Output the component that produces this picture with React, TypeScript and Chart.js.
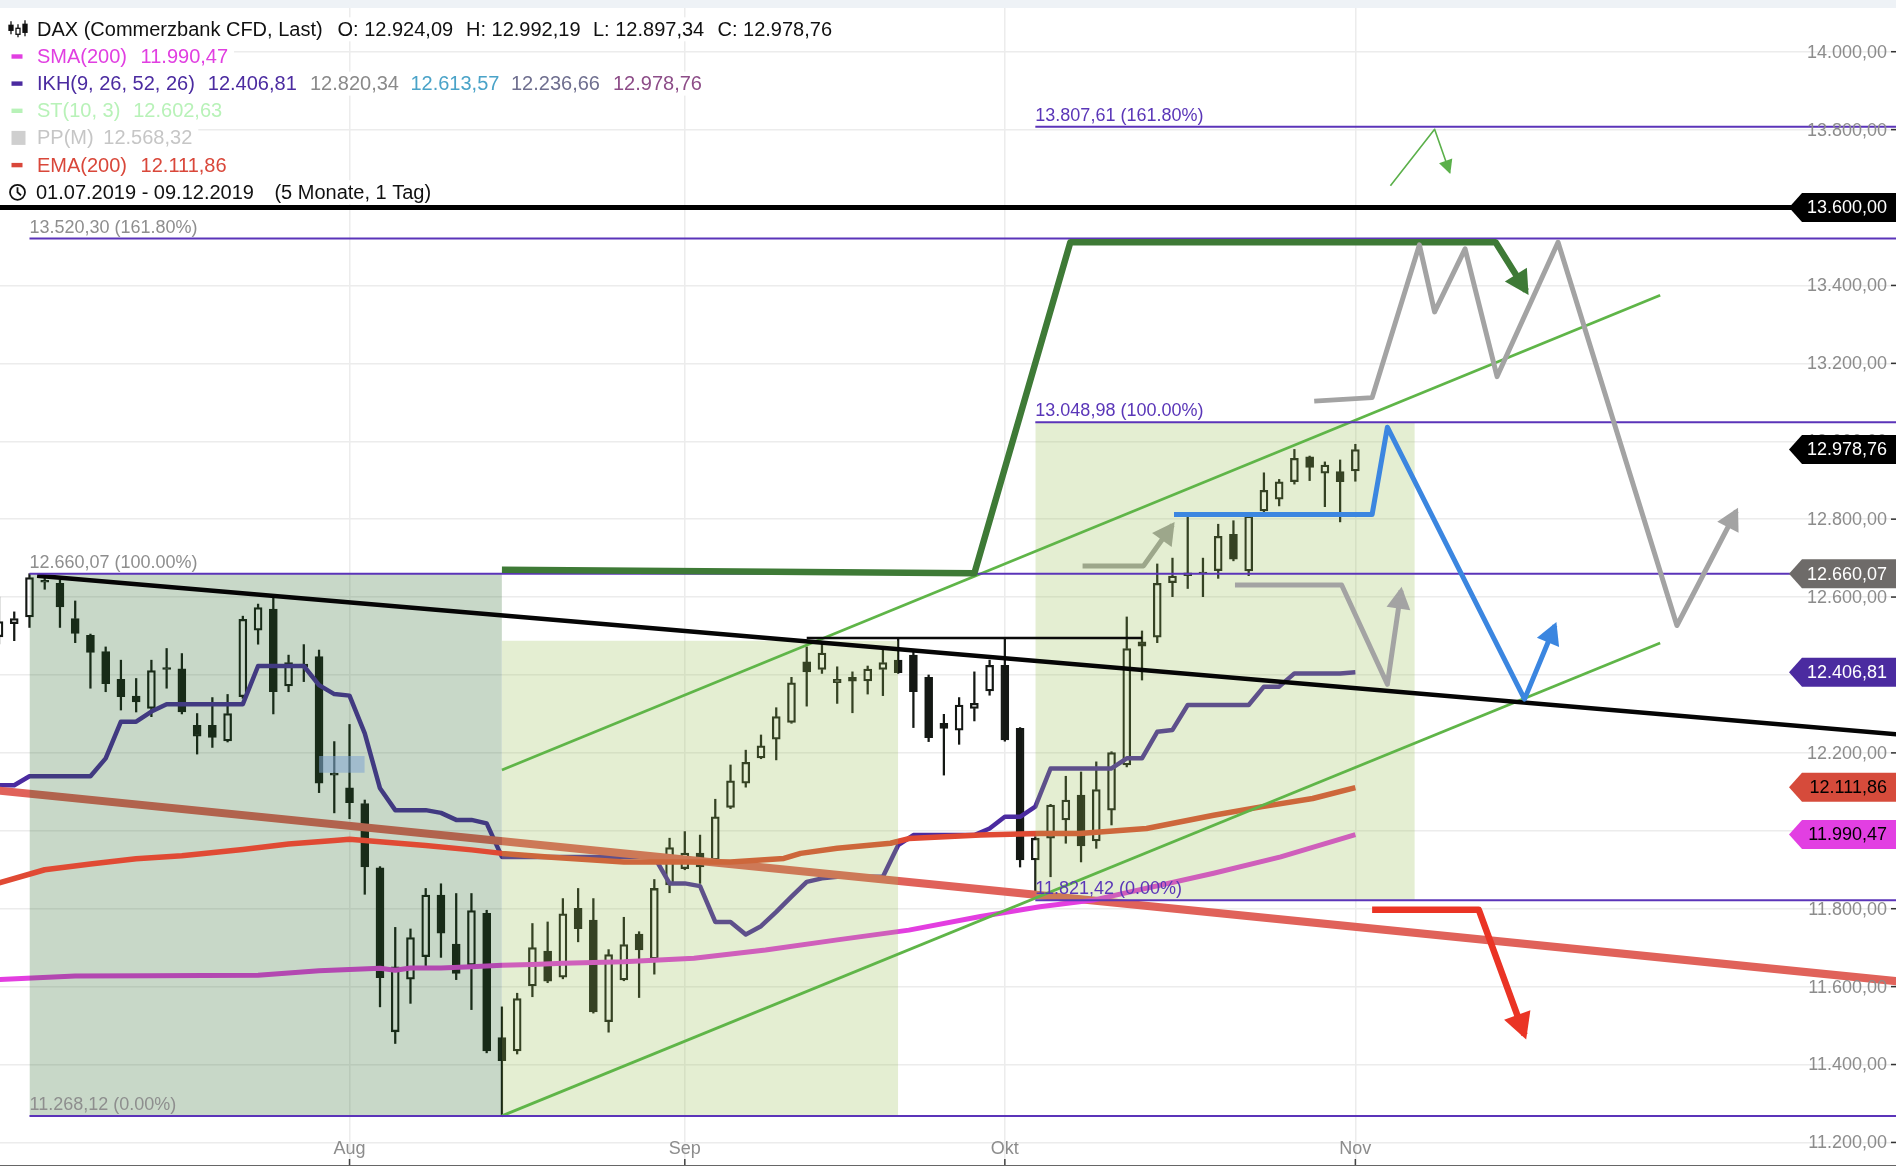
import React, { useEffect, useRef } from 'react';
import { Chart, registerables } from 'chart.js';

Chart.register(...registerables);

const FONT = '"Liberation Sans", "Helvetica Neue", Arial, sans-serif';

// ---------- daily candles, index 0 = 01.07.2019 (trading days) ----------
const OPEN = [
  12498, 12532, 12549, 12643, 12635, 12545, 12502, 12460, 12389, 12346,
  12314, 12419, 12416, 12271, 12271, 12231, 12344, 12515, 12569, 12372,
  12428, 12447, 12148, 12110, 12070, 11905, 11484, 11619, 11677, 11835,
  11709, 11655, 11788, 11469, 11435, 11602, 11691, 11624, 11801, 11771,
  11510, 11617, 11735, 11671, 11861, 11903, 11943, 11925, 12060, 12122,
  12187, 12235, 12278, 12434, 12414, 12380, 12394, 12385, 12414, 12438,
  12451, 12394, 12276, 12258, 12314, 12359, 12425, 12263, 11925, 11981,
  12028, 12092, 11974, 12053, 12169, 12485, 12497, 12637, 12655, 12664,
  12668, 12761, 12667, 12821, 12851, 12896, 12960, 12918, 12922, 12924.09,
];
const HIGH = [
  12600, 12562, 12660, 12655, 12644, 12590, 12505, 12472, 12438, 12391,
  12438, 12468, 12455, 12301, 12342, 12350, 12551, 12582, 12599, 12451,
  12478, 12464, 12229, 12273, 12079, 11908, 11752, 11748, 11852, 11864,
  11839, 11839, 11796, 11548, 11583, 11762, 11766, 11826, 11852, 11826,
  11695, 11778, 11741, 11875, 11981, 11998, 11989, 12081, 12169, 12207,
  12246, 12316, 12394, 12472, 12481, 12421, 12408, 12423, 12464, 12494,
  12460, 12400, 12299, 12342, 12408, 12438, 12494, 12265, 11985, 12068,
  12140, 12151, 12177, 12203, 12549, 12513, 12685, 12700, 12808, 12700,
  12787, 12796, 12810, 12919, 12902, 12979, 12962, 12947, 12952, 12992.19,
];
const LOW = [
  12480, 12488, 12522, 12620, 12522, 12483, 12366, 12357, 12310, 12305,
  12293, 12366, 12300, 12197, 12214, 12228, 12340, 12479, 12300, 12357,
  12383, 12098, 12046, 12031, 11837, 11548, 11454, 11557, 11651, 11675,
  11618, 11541, 11430, 11268, 11427, 11574, 11610, 11620, 11715, 11532,
  11483, 11615, 11572, 11632, 11841, 11900, 11865, 11922, 12057, 12112,
  12185, 12182, 12276, 12320, 12404, 12327, 12303, 12351, 12347, 12404,
  12265, 12229, 12143, 12222, 12282, 12348, 12230, 11907, 11839, 11882,
  11968, 11920, 11955, 12015, 12164, 12387, 12483, 12601, 12622, 12601,
  12648, 12693, 12655, 12818, 12834, 12890, 12899, 12832, 12793, 12897.34,
];
const CLOSE = [
  12537, 12545, 12650, 12638, 12575, 12507, 12458, 12378, 12344, 12331,
  12411, 12414, 12305, 12243, 12240, 12301, 12543, 12573, 12357, 12432,
  12420, 12122, 12143, 12072, 11907, 11623, 11651, 11726, 11835, 11737,
  11634, 11795, 11435, 11410, 11569, 11700, 11614, 11787, 11749, 11535,
  11682, 11708, 11694, 11852, 11957, 11943, 11907, 12036, 12128, 12176,
  12218, 12293, 12380, 12408, 12456, 12389, 12384, 12415, 12432, 12406,
  12357, 12239, 12263, 12323, 12327, 12425, 12233, 11925, 11981, 12066,
  12079, 11961, 12106, 12201, 12468, 12474, 12635, 12654, 12662, 12660,
  12756, 12697, 12808, 12874, 12896, 12956, 12933, 12939, 12896, 12978.76,
];

const MONTH_IDX = [23, 45, 66, 89];
const MONTH_LABELS = ['Aug', 'Sep', 'Okt', 'Nov'];
const Y_TICKS = [11200, 11400, 11600, 11800, 12000, 12200, 12400, 12600, 12800, 13000, 13200, 13400, 13600, 13800, 14000];

// ---------- indicators: [trading-day index, value] ----------
const IKH_LINE = [
  [0, 12117], [1, 12117], [2, 12140], [6, 12140], [7, 12186], [8, 12280], [9, 12280], [10, 12306], [11, 12325],
  [16, 12325], [17, 12423], [20, 12423], [21, 12374], [22, 12351], [23, 12347], [24, 12250], [25, 12109],
  [26, 12053], [28, 12053], [29, 12046], [30, 12028], [31, 12028], [32, 12019], [33, 11933], [43, 11933],
  [44, 11865], [45, 11865], [46, 11858], [47, 11766], [48, 11766], [49, 11734], [50, 11755], [51, 11792],
  [52, 11831], [53, 11869], [54, 11878], [55, 11882], [58, 11882], [59, 11963], [60, 11989], [64, 11989],
  [65, 12006], [66, 12036], [67, 12036], [68, 12062], [69, 12160], [73, 12160], [74, 12186], [75, 12186],
  [76, 12254], [77, 12259], [78, 12323], [82, 12323], [83, 12370], [84, 12370], [85, 12404], [88, 12404], [89, 12407],
];
const EMA_LINE = [
  [0, 11866], [3, 11900], [6, 11915], [9, 11928], [12, 11936], [16, 11952], [19, 11966], [22, 11975], [23, 11978],
  [25, 11972], [28, 11962], [31, 11951], [33, 11942], [36, 11933], [41, 11920], [48, 11920], [51.5, 11929],
  [52.6, 11942], [55, 11955], [58.5, 11968], [59.7, 11980], [64.4, 11989], [68.3, 11993], [70.9, 11993],
  [75.3, 12006], [79.7, 12040], [82.9, 12062], [86.2, 12083], [89, 12111],
];
const SMA_LINE = [
  [0, 11618], [5, 11627], [10, 11628], [17, 11629], [19, 11635], [21, 11641], [23, 11644], [25, 11647],
  [26, 11642], [27, 11648], [29, 11648], [31, 11651], [33, 11655], [35, 11657], [37, 11660], [41, 11664],
  [45.6, 11673], [50.3, 11694], [55, 11720], [59.7, 11745], [64.4, 11780], [68.3, 11805], [71.8, 11822],
  [79.7, 11891], [84.1, 11933], [89, 11990],
];

// ---------- drawings ----------
const TREND_BLACK = [[2.5, 12655], [124.5, 12248]];
const TREND_RED = [[0, 12103], [124.5, 11614]];
const LEVEL_BLACK = [[53, 12495], [75, 12495]];
const LEVEL_13600 = [[0, 13600], [124.5, 13600]];
const CHANNEL_UPPER = [[33, 12156], [109, 13375]];
const CHANNEL_LOWER = [[33, 11268.12], [109, 12482]];
const PATH_DARKGREEN = [[33, 12670], [64, 12661], [70.3, 13511], [98.2, 13511], [100.2, 13386]];
const PATH_GREEN_THIN = [[91.3, 13656], [94.2, 13801], [95.2, 13689]];
const PATH_GRAY_SMALL = [[71.1, 12680], [75.1, 12680], [77.0, 12785]];
const PATH_GRAY_MID = [[81.1, 12631], [88.1, 12631], [91.1, 12376], [92.0, 12617]];
const PATH_GRAY_BIG = [[86.3, 13103], [90.1, 13112], [93.2, 13504], [94.2, 13332], [96.2, 13494], [98.3, 13166], [102.3, 13511], [110.1, 12527], [114.0, 12821]];
const PATH_BLUE = [[77.1, 12812], [90.1, 12812], [91.1, 13036], [100.1, 12338], [102.1, 12527]];
const PATH_RED = [[90.1, 11797], [97.1, 11797], [100.1, 11476]];

// ---------- fibonacci tools ----------
const FIB1_START = 2;
const FIB1_LEVELS = [11268.12, 12660.07, 13520.3];
const FIB1_TEXT = ['11.268,12 (0.00%)', '12.660,07 (100.00%)', '13.520,30 (161.80%)'];
const FIB2_START = 68;
const FIB2_LEVELS = [11821.42, 13048.98, 13807.61];
const FIB2_TEXT = ['11.821,42 (0.00%)', '13.048,98 (100.00%)', '13.807,61 (161.80%)'];
const RECT_DARK = [2, 33, 11268.12, 12660.07];
const RECT_LIGHT_A = [33, 59, 11268.12, 12488];
const RECT_LIGHT_B = [68, 92.9, 11821.42, 13048.98];
const RECT_PP = [21, 24, 12149, 12192];

// ---------- price tags on the right ----------
const TAG_VALUES = [13600, 12978.76, 12660.07, 12406.81, 12111.86, 11990.47];
const TAG_TEXT = ['13.600,00', '12.978,76', '12.660,07', '12.406,81', '12.111,86', '11.990,47'];
const TAG_BG = ['#000000', '#000000', '#6e6b69', '#4b2ba0', '#d64b3b', '#e23fe2'];
const TAG_FG = ['#ffffff', '#ffffff', '#ffffff', '#ffffff', '#000000', '#000000'];

// ---------- legend ----------
const LEGEND_MAIN = ['DAX (Commerzbank CFD, Last)', 'O: 12.924,09', 'H: 12.992,19', 'L: 12.897,34', 'C: 12.978,76'];
const LEGEND_SMA = ['SMA(200)', '11.990,47'];
const LEGEND_IKH = ['IKH(9, 26, 52, 26)', '12.406,81', '12.820,34', '12.613,57', '12.236,66', '12.978,76'];
const LEGEND_ST = ['ST(10, 3)', '12.602,63'];
const LEGEND_PP = ['PP(M)', '12.568,32'];
const LEGEND_EMA = ['EMA(200)', '12.111,86'];
const LEGEND_RANGE = ['01.07.2019 - 09.12.2019', '(5 Monate, 1 Tag)'];

const X_MIN = 0.0656;
const X_MAX = 124.475;
const Y_MIN = 11139.5;
const Y_MAX = 14112.2;

const fmtDE = (v: number) => {
  const [i, d] = v.toFixed(2).split('.');
  return i.replace(/\B(?=(\d{3})+(?!\d))/g, '.') + ',' + d;
};

const pts = (arr: number[][]) => arr.map(([x, y]) => ({ x, y }));

const lineDs = (data: number[][], color: string, width: number, order: number, extra: any = {}) => ({
  type: 'line',
  data: pts(data),
  borderColor: color,
  backgroundColor: color,
  borderWidth: width,
  pointRadius: 0,
  pointHoverRadius: 0,
  tension: 0,
  fill: false,
  order,
  borderJoinStyle: 'round',
  borderCapStyle: 'butt',
  ...extra,
});

const rectDs = (r: number[], color: string, order: number) => ({
  type: 'line',
  data: [{ x: r[0], y: r[3] }, { x: r[1], y: r[3] }],
  borderColor: 'rgba(0,0,0,0)',
  borderWidth: 0,
  backgroundColor: color,
  fill: { value: r[2] },
  pointRadius: 0,
  pointHoverRadius: 0,
  tension: 0,
  order,
});

const levelDs = (start: number, value: number, order: number) =>
  lineDs([[start, value], [X_MAX + 1, value]], '#5b34b9', 2, order);

const overlayPlugin = {
  id: 'overlay',
  beforeDraw(chart: any) {
    const { ctx } = chart;
    ctx.save();
    ctx.fillStyle = '#ffffff';
    ctx.fillRect(0, 0, chart.width, chart.height);
    ctx.fillStyle = '#eef2f6';
    ctx.fillRect(0, 0, chart.width, 8);
    ctx.restore();
  },
  afterDatasetDraw(chart: any, args: any) {
    const ds = chart.data.datasets[args.index];
    if (!ds.arrow) return;
    const el = args.meta.data;
    const a = el[el.length - 2];
    const b = el[el.length - 1];
    const dx = b.x - a.x;
    const dy = b.y - a.y;
    const len = Math.hypot(dx, dy) || 1;
    const ux = dx / len;
    const uy = dy / len;
    const L = ds.arrow[0];
    const W = ds.arrow[1];
    const over = (ds.borderWidth / 2) * L / (W / 2);
    const tx = b.x + ux * over * 0.8;
    const ty = b.y + uy * over * 0.8;
    const bx = tx - ux * L;
    const by = ty - uy * L;
    const { ctx } = chart;
    ctx.save();
    ctx.fillStyle = ds.borderColor;
    ctx.beginPath();
    ctx.moveTo(tx, ty);
    ctx.lineTo(bx - uy * W / 2, by + ux * W / 2);
    ctx.lineTo(bx + uy * W / 2, by - ux * W / 2);
    ctx.closePath();
    ctx.fill();
    ctx.restore();
  },
  afterDraw(chart: any) {
    const { ctx, chartArea } = chart;
    const xs = chart.scales.x;
    const ys = chart.scales.y;
    const px = (v: number) => xs.getPixelForValue(v);
    const py = (v: number) => ys.getPixelForValue(v);
    ctx.save();

    // fibonacci labels
    ctx.font = `18px ${FONT}`;
    ctx.textAlign = 'left';
    ctx.textBaseline = 'alphabetic';
    FIB1_LEVELS.forEach((lv, i) => {
      ctx.fillStyle = '#8e8e8e';
      ctx.fillText(FIB1_TEXT[i], px(FIB1_START), py(lv) - 6);
    });
    FIB2_LEVELS.forEach((lv, i) => {
      ctx.fillStyle = '#5a36b8';
      ctx.fillText(FIB2_TEXT[i], px(FIB2_START), py(lv) - 6);
    });

    // y tick labels
    const right = chartArea.right;
    ctx.textAlign = 'right';
    ctx.textBaseline = 'middle';
    Y_TICKS.forEach((v) => {
      const yy = py(v);
      ctx.fillStyle = '#8c8c8c';
      ctx.fillText(fmtDE(v), right - 9, yy + 1);
      ctx.fillStyle = '#333333';
      ctx.fillRect(right - 5, yy - 0.75, 5, 1.5);
    });

    // price tags
    TAG_VALUES.forEach((v, i) => {
      const yy = py(v);
      const h = 14.5;
      ctx.fillStyle = TAG_BG[i];
      ctx.beginPath();
      ctx.moveTo(right - 107, yy);
      ctx.lineTo(right - 94, yy - h);
      ctx.lineTo(right, yy - h);
      ctx.lineTo(right, yy + h);
      ctx.lineTo(right - 94, yy + h);
      ctx.closePath();
      ctx.fill();
      ctx.fillStyle = TAG_FG[i];
      ctx.fillText(TAG_TEXT[i], right - 9, yy + 1);
    });

    // x labels and ticks
    ctx.textAlign = 'center';
    MONTH_IDX.forEach((m, i) => {
      ctx.fillStyle = '#8c8c8c';
      ctx.fillText(MONTH_LABELS[i], px(m), 1149);
      ctx.fillStyle = '#444444';
      ctx.fillRect(px(m) - 0.75, 1159, 1.5, 7);
    });
    ctx.fillStyle = '#666666';
    ctx.fillRect(0, 1165, chart.width, 1);

    // legend
    ctx.font = `20px ${FONT}`;
    ctx.textAlign = 'left';
    ctx.textBaseline = 'middle';
    const rows: any[] = [
      { y: 29.3, xs: [37, 337.5, 466, 593, 717.5], t: LEGEND_MAIN, c: ['#111', '#111', '#111', '#111', '#111'], icon: 'candle' },
      { y: 56.5, xs: [37, 140.6], t: LEGEND_SMA, c: ['#e13fe1', '#e13fe1'], icon: 'dash', ic: '#e13fe1' },
      { y: 83.6, xs: [37, 207.8, 310, 410.4, 511, 613], t: LEGEND_IKH, c: ['#4b2ba0', '#4b2ba0', '#8a8a8a', '#4aa3c8', '#6f6f8f', '#8d4d88'], icon: 'dash', ic: '#4b2ba0' },
      { y: 110.8, xs: [37, 133.2], t: LEGEND_ST, c: ['#b8f2b8', '#b8f2b8'], icon: 'dash', ic: '#b8f2b8' },
      { y: 137.9, xs: [37, 103.3], t: LEGEND_PP, c: ['#c6c6c6', '#c6c6c6'], icon: 'square', ic: '#cfcfcf' },
      { y: 165.1, xs: [37, 140.6], t: LEGEND_EMA, c: ['#d9473a', '#d9473a'], icon: 'dash', ic: '#d9473a' },
      { y: 192.3, xs: [36, 274.4], t: LEGEND_RANGE, c: ['#111', '#111'], icon: 'clock' },
    ];
    rows.forEach((r) => {
      const last = r.t.length - 1;
      const end = r.xs[last] + ctx.measureText(r.t[last]).width + 6;
      ctx.fillStyle = '#ffffff';
      ctx.fillRect(0, r.y - 12, end, 24);
      r.t.forEach((s: string, i: number) => {
        ctx.fillStyle = r.c[i];
        ctx.fillText(s, r.xs[i], r.y + 1);
      });
      if (r.icon === 'dash') {
        ctx.fillStyle = r.ic;
        ctx.fillRect(11.5, r.y - 2.2, 11, 4.4);
      } else if (r.icon === 'square') {
        ctx.fillStyle = r.ic;
        ctx.fillRect(11.5, r.y - 7, 14, 14);
      } else if (r.icon === 'candle') {
        ctx.strokeStyle = '#111';
        ctx.lineWidth = 1.3;
        const cx = [11, 18, 25];
        const top = [-8, -5, -9];
        const bot = [5, 8, 7];
        const bt = [-4, -1, -5];
        const bb = [1, 5, 3];
        cx.forEach((x0, k) => {
          ctx.beginPath();
          ctx.moveTo(x0, r.y + top[k]);
          ctx.lineTo(x0, r.y + bot[k]);
          ctx.stroke();
          ctx.fillStyle = k === 1 ? '#ffffff' : '#111';
          ctx.fillRect(x0 - 2, r.y + bt[k], 4, bb[k] - bt[k]);
          ctx.strokeRect(x0 - 2, r.y + bt[k], 4, bb[k] - bt[k]);
        });
      } else if (r.icon === 'clock') {
        ctx.strokeStyle = '#111';
        ctx.lineWidth = 1.8;
        ctx.beginPath();
        ctx.arc(17.5, r.y, 7.5, 0, Math.PI * 2);
        ctx.stroke();
        ctx.beginPath();
        ctx.moveTo(17.5, r.y - 5);
        ctx.lineTo(17.5, r.y);
        ctx.lineTo(21, r.y + 3);
        ctx.stroke();
      }
    });
    ctx.restore();
  },
};

export default function App() {
  const ref = useRef<HTMLCanvasElement | null>(null);

  useEffect(() => {
    if (!ref.current) return;
    const idx = OPEN.map((_, i) => i);
    const bodyData = idx.map((i) => ({ x: i, y: [OPEN[i], CLOSE[i]] }));
    const upWick = idx.map((i) => ({ x: i, y: [Math.max(OPEN[i], CLOSE[i]), HIGH[i]] }));
    const loWick = idx.map((i) => ({ x: i, y: [LOW[i], Math.min(OPEN[i], CLOSE[i])] }));
    const candleInk = '#141814';

    const datasets: any[] = [
      // forecast paths (top)
      lineDs(PATH_BLUE, '#3b86e0', 5, 0, { arrow: [22, 24] }),
      lineDs(PATH_GRAY_MID, '#a3a3a3', 5, 0, { arrow: [22, 24] }),
      lineDs(PATH_GRAY_BIG, '#a3a3a3', 5, 0, { arrow: [22, 24] }),
      lineDs(PATH_RED, '#ea3425', 6.5, 0, { arrow: [26, 28] }),
      lineDs(PATH_DARKGREEN, '#3e7a36', 6.5, 0, { arrow: [24, 26] }),
      lineDs(PATH_GREEN_THIN, '#5bb04a', 1.6, 0, { arrow: [14, 14] }),
      // fib lines & 13600 level
      ...FIB1_LEVELS.map((v) => levelDs(FIB1_START, v, 1)),
      ...FIB2_LEVELS.map((v) => levelDs(FIB2_START, v, 1)),
      lineDs(LEVEL_13600, '#000000', 5, 1),
      // black trend & level
      lineDs(TREND_BLACK, '#050505', 4.5, 2),
      lineDs(LEVEL_BLACK, '#0a0a0a', 2.5, 2),
      // green channel
      lineDs(CHANNEL_UPPER, '#5fb548', 2.8, 3),
      lineDs(CHANNEL_LOWER, '#5fb548', 2.8, 3),
      // small pivot box
      rectDs(RECT_PP, 'rgba(130,165,210,0.55)', 4),
      // light fib boxes
      rectDs(RECT_LIGHT_A, 'rgba(150,190,80,0.26)', 5),
      rectDs(RECT_LIGHT_B, 'rgba(150,190,80,0.26)', 5),
      // small gray arrow (under the light box)
      lineDs(PATH_GRAY_SMALL, '#a0a0a0', 5, 6, { arrow: [22, 24] }),
      // EMA
      lineDs(EMA_LINE, '#e04a34', 5.5, 7),
      // dark fib box
      rectDs(RECT_DARK, 'rgba(39,102,39,0.255)', 8),
      // lines under dark box
      lineDs(SMA_LINE, '#e33ee0', 5, 9),
      lineDs(TREND_RED, '#e0625a', 8, 9),
      lineDs(IKH_LINE, '#4b2ba0', 4.5, 9),
      // candles
      {
        type: 'bar',
        data: bodyData,
        backgroundColor: idx.map((i) => (CLOSE[i] >= OPEN[i] ? 'rgba(0,0,0,0)' : candleInk)),
        borderColor: candleInk,
        borderWidth: 1.6,
        borderSkipped: false,
        barThickness: 8,
        grouped: false,
        order: 10,
      },
      { type: 'bar', data: upWick, backgroundColor: candleInk, borderWidth: 0, barThickness: 1.6, grouped: false, order: 11 },
      { type: 'bar', data: loWick, backgroundColor: candleInk, borderWidth: 0, barThickness: 1.6, grouped: false, order: 11 },
    ];

    const chart = new Chart(ref.current, {
      type: 'line',
      data: { datasets },
      options: {
        animation: false,
        responsive: false,
        devicePixelRatio: 1,
        events: [],
        layout: { padding: { top: 8, left: 0, right: 0, bottom: 0 } },
        plugins: { legend: { display: false }, tooltip: { enabled: false } },
        scales: {
          x: {
            type: 'linear',
            min: X_MIN,
            max: X_MAX,
            offset: false,
            afterBuildTicks: (s: any) => {
              s.ticks = MONTH_IDX.map((v) => ({ value: v }));
            },
            ticks: { display: false },
            grid: { color: '#ececec', lineWidth: 1.5, drawTicks: false, offset: false },
            border: { display: false },
            afterFit: (s: any) => {
              s.height = 0;
            },
          },
          y: {
            type: 'linear',
            position: 'right',
            min: Y_MIN,
            max: Y_MAX,
            afterBuildTicks: (s: any) => {
              s.ticks = Y_TICKS.map((v) => ({ value: v }));
            },
            ticks: { display: false },
            grid: { color: '#ececec', lineWidth: 1.5, drawTicks: false, offset: false },
            border: { display: false },
            afterFit: (s: any) => {
              s.width = 0;
            },
          },
        },
      } as any,
      plugins: [overlayPlugin as any],
    } as any);

    return () => chart.destroy();
  }, []);

  return (
    <div style={{ position: 'fixed', left: 0, top: 0, width: 1896, height: 1166, background: '#fff' }}>
      <canvas ref={ref} width={1896} height={1166} style={{ display: 'block', width: 1896, height: 1166 }} />
    </div>
  );
}
